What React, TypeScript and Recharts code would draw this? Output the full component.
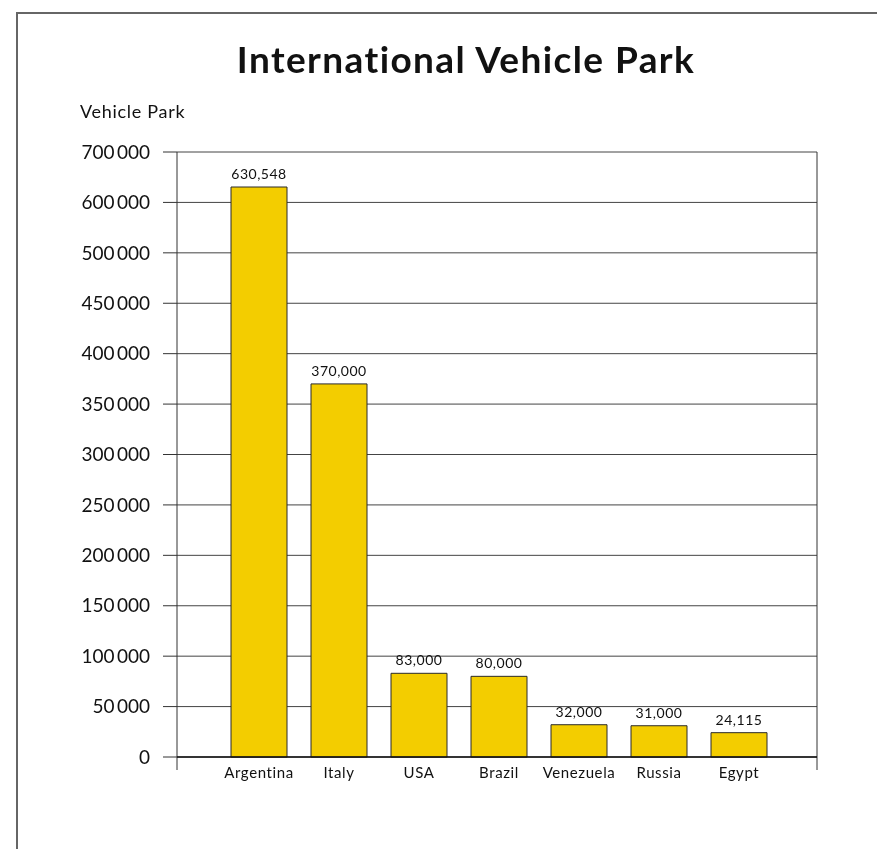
import * as Recharts from 'recharts'
import { BarChart, Bar, XAxis, YAxis, CartesianGrid, LabelList } from 'recharts'

const countries = ['Argentina', 'Italy', 'USA', 'Brazil', 'Venezuela', 'Russia', 'Egypt']
const vehicles = [630548, 370000, 83000, 80000, 32000, 31000, 24115]
const yTicks = [0, 50000, 100000, 150000, 200000, 250000, 300000, 350000, 400000, 450000, 500000, 600000, 700000]

// the value axis is stretched below 500 000 and compressed above it
const axisKnots = [0, 500000, 700000]
const axisStops = [0, 10 / 12, 1]

const data = countries.map((country, i) => ({ country, value: vehicles[i] }))

function brokenScale(dom: number[] = [0, 700000], rng: number[] = [0, 1]): any {
  const toUnit = (v: number) => {
    let i = 0
    while (i < axisKnots.length - 2 && v > axisKnots[i + 1]) i++
    const f = (v - axisKnots[i]) / (axisKnots[i + 1] - axisKnots[i])
    return axisStops[i] + f * (axisStops[i + 1] - axisStops[i])
  }
  const fromUnit = (t: number) => {
    let i = 0
    while (i < axisStops.length - 2 && t > axisStops[i + 1]) i++
    const f = (t - axisStops[i]) / (axisStops[i + 1] - axisStops[i])
    return axisKnots[i] + f * (axisKnots[i + 1] - axisKnots[i])
  }
  const s: any = (v: number) => rng[0] + toUnit(v) * (rng[1] - rng[0])
  s.domain = (d?: number[]) => {
    if (d === undefined) return dom.slice()
    dom = d.slice()
    return s
  }
  s.range = (r?: number[]) => {
    if (r === undefined) return rng.slice()
    rng = r.slice()
    return s
  }
  s.invert = (px: number) => fromUnit((px - rng[0]) / (rng[1] - rng[0]))
  s.ticks = () => yTicks
  s.tickFormat = () => (v: number) => String(v)
  s.copy = () => brokenScale(dom, rng)
  return s
}

const formatTick = (v: number) => (v >= 1000 ? `${Math.floor(v / 1000)}\u2009${String(v % 1000).padStart(3, '0')}` : String(v))
const formatLabel = (v: any) => Number(v).toLocaleString('en-US')

function PlotFrame() {
  const usePlot = (Recharts as any).usePlotArea
  const area = usePlot ? usePlot() : null
  if (!area) return null
  const { x, y, width, height } = area
  return (
    <g stroke="#333" strokeWidth={1}>
      <line x1={x} y1={y} x2={x} y2={y + height + 13} />
      <line x1={x + width} y1={y} x2={x + width} y2={y + height + 13} />
    </g>
  )
}

export default function App() {
  const font = 'Lato, "Open Sans", sans-serif'
  return (
    <div style={{ position: 'relative', width: 861, height: 833, fontFamily: font, color: '#111' }}>
      <div style={{ position: 'fixed', left: 16, top: 12, width: 1000, height: 1000, border: '2px solid #666', boxSizing: 'border-box', pointerEvents: 'none' }} />
      <div style={{ position: 'absolute', left: 158, top: 32, width: 600, textAlign: 'center', fontSize: 37, fontWeight: 700, lineHeight: 1, letterSpacing: 1.4 }}>
        International Vehicle Park
      </div>
      <div style={{ position: 'absolute', left: 72, top: 94, fontSize: 18, lineHeight: 1, letterSpacing: 0.7 }}>Vehicle Park</div>
      <div style={{ position: 'absolute', left: 0, top: 0 }}>
        <BarChart width={861} height={833} data={data} margin={{ top: 144, right: 52, bottom: 54, left: 0 }} barSize={56}>
          <CartesianGrid vertical={false} stroke="#444" strokeOpacity={1} />
          <XAxis
            dataKey="country"
            height={30}
            padding={{ left: 42, right: 38 }}
            tickLine={false}
            tickMargin={4}
            axisLine={{ stroke: '#111', strokeWidth: 1.5 }}
            tick={{ fill: '#111', fontSize: 15, fontFamily: font, letterSpacing: 0.6 }}
            interval={0}
          />
          <YAxis
            type="number"
            width={169}
            domain={[0, 700000]}
            scale={brokenScale()}
            ticks={yTicks}
            interval={0}
            tickFormatter={formatTick}
            tickSize={14}
            tickMargin={13}
            axisLine={false}
            tickLine={{ stroke: '#333' }}
            tick={{ fill: '#111', fontSize: 19, fontFamily: font }}
          />
          <Bar dataKey="value" fill="#F3CD00" stroke="#2a2a2a" strokeWidth={1} isAnimationActive={false}>
            <LabelList dataKey="value" position="top" offset={8} formatter={formatLabel} fill="#111" fontSize={14} fontFamily={font} letterSpacing={0.5} />
          </Bar>
          <PlotFrame />
        </BarChart>
      </div>
    </div>
  )
}
